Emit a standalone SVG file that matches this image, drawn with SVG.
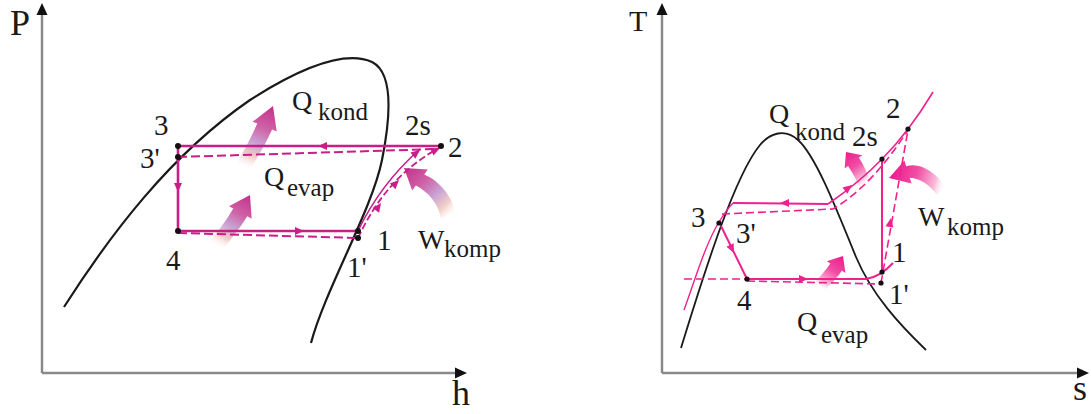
<svg xmlns="http://www.w3.org/2000/svg" width="1091" height="414" viewBox="0 0 1091 414">
<style>
.axis{stroke:#8a8a8a;stroke-width:2.5;fill:none}
.dome{stroke:#1a1a1a;stroke-width:2.2;fill:none}
.cl{stroke:#c81e88;stroke-width:2.6;fill:none}
.cld{stroke:#c81e88;stroke-width:2;fill:none;stroke-dasharray:9 4}
.cr{stroke:#f0208e;stroke-width:2;fill:none}
.crd{stroke:#f0208e;stroke-width:1.6;fill:none;stroke-dasharray:8 4}
.dot{fill:#111}
</style>
<defs>
<path id="ah" d="M0,0 L-9,-4 L-9,4 Z"/>
<path id="axh" d="M0,0 L-12,-5.5 L-12,5.5 Z" fill="#111"/>
<path id="fa" d="M0,0 L13,20 L8,20 C7.5,34 5,48 2,62 L-13,62 C-10,48 -8.5,34 -8,20 L-13,20 Z"/>
<linearGradient id="gL" x1="0" y1="0" x2="0" y2="1">
<stop offset="0" stop-color="#c2308a"/>
<stop offset="0.35" stop-color="#cf62a6"/>
<stop offset="0.6" stop-color="#c9a4d4"/>
<stop offset="0.8" stop-color="#f2cfc8"/>
<stop offset="1" stop-color="#ffffff" stop-opacity="0"/>
</linearGradient>
<linearGradient id="gLw" href="#gL" gradientUnits="userSpaceOnUse" x1="404" y1="168" x2="452" y2="218"/>
<linearGradient id="gR" x1="0" y1="0" x2="0" y2="1">
<stop offset="0" stop-color="#ee1a8c"/>
<stop offset="0.45" stop-color="#f04fa5"/>
<stop offset="0.8" stop-color="#f9bcd9"/>
<stop offset="1" stop-color="#ffffff" stop-opacity="0"/>
</linearGradient>
<linearGradient id="gRw" href="#gR" gradientUnits="userSpaceOnUse" x1="890" y1="176" x2="944" y2="192"/>
</defs>

<!-- LEFT: P-h diagram -->
<g id="axes-ph">
<line class="axis" x1="42" y1="373" x2="42" y2="12"/>
<use href="#axh" transform="translate(42,3) rotate(-90)"/>
<line class="axis" x1="42" y1="373" x2="458" y2="373"/>
<use href="#axh" transform="translate(467,373)"/>
<text font-family="Liberation Serif" font-size="36" fill="#1a1a1a" x="10" y="35">P</text>
<text font-family="Liberation Serif" font-size="36" fill="#1a1a1a" x="452" y="405">h</text>
</g>
<g id="dome-ph">
<path class="dome" d="M64,307 C110,235 170,155 250,100 C300,68 345,50 372,62 C392,72 392,110 382,160 C372,210 325,290 311,343"/>
</g>
<g id="heat-ph">
<use href="#fa" fill="url(#gL)" transform="translate(273,106) rotate(22) scale(1,1.11)"/>
<use href="#fa" fill="url(#gL)" transform="translate(250,195) rotate(29)"/>
<path fill="url(#gLw)" d="M404,168 L427.8,169.6 L424.2,174.4 C438,180 452,195 455,212 L441,218 C438,203 428,192 415.8,185.6 L412.2,190.4 Z"/>
</g>
<g id="connectors-ph">
<path class="cl" d="M178,146 L441,146"/>
<path class="cld" d="M178,157 L437,149"/>
<path class="cl" d="M178,146 L178,231"/>
<path class="cl" d="M178,231 L358,231"/>
<path class="cld" d="M178,233 L358,238"/>
<path class="cl" style="stroke-width:1.6" d="M358,231 C368,210 385,180 420,149"/>
<path class="cld" style="stroke-width:1.8;stroke-dasharray:7 3" d="M358,238 C372,208 395,172 439,148"/>
<g fill="#c81e88">
<use href="#ah" transform="translate(318,146) rotate(180)"/>
<use href="#ah" transform="translate(178,192) rotate(90)"/>
<use href="#ah" transform="translate(304,231)"/>
<use href="#ah" transform="translate(420,150) rotate(-38)"/>
<use href="#ah" transform="translate(440,148) rotate(-25)"/>
<use href="#ah" transform="translate(399,180) rotate(-45)"/>
<use href="#ah" transform="translate(381,203) rotate(-55)"/>
</g>
</g>
<g font-family="Liberation Serif" fill="#1a1a1a" font-size="29">
<g id="pt-ph-3"><circle class="dot" cx="178" cy="146" r="3"/><text font-family="Liberation Serif" x="154" y="135">3</text></g>
<g id="pt-ph-3p"><circle class="dot" cx="178" cy="157" r="3"/><text font-family="Liberation Serif" x="140" y="168">3'</text></g>
<g id="pt-ph-4"><circle class="dot" cx="178" cy="231" r="3"/><text font-family="Liberation Serif" x="166" y="270">4</text></g>
<g id="pt-ph-1"><circle class="dot" cx="358" cy="231" r="3"/><text font-family="Liberation Serif" x="377" y="250">1</text></g>
<g id="pt-ph-1p"><circle class="dot" cx="358" cy="238" r="3"/><text font-family="Liberation Serif" x="347" y="277">1'</text></g>
<g id="pt-ph-2"><circle class="dot" cx="441" cy="146" r="3"/><text font-family="Liberation Serif" x="448" y="157">2</text></g>
<g id="pt-ph-2s"><text font-family="Liberation Serif" x="405" y="135">2s</text></g>
<g id="lbl-ph-qkond"><text font-family="Liberation Serif" font-size="28" x="292" y="110">Q</text><text font-family="Liberation Serif" font-size="25" x="318" y="120">kond</text></g>
<g id="lbl-ph-qevap"><text font-family="Liberation Serif" font-size="28" x="264" y="186">Q</text><text font-family="Liberation Serif" font-size="25" x="287" y="196">evap</text></g>
<g id="lbl-ph-wkomp"><text font-family="Liberation Serif" font-size="28" x="418" y="249">W</text><text font-family="Liberation Serif" font-size="25" x="444" y="257">komp</text></g>
</g>

<!-- RIGHT: T-s diagram -->
<g id="axes-ts">
<line class="axis" x1="662" y1="373" x2="662" y2="12"/>
<use href="#axh" transform="translate(662,3) rotate(-90)"/>
<line class="axis" x1="662" y1="373" x2="1080" y2="373"/>
<use href="#axh" transform="translate(1089,373)"/>
<text font-family="Liberation Serif" font-size="30" fill="#1a1a1a" x="629" y="31">T</text>
<text font-family="Liberation Serif" font-size="36" fill="#1a1a1a" x="1073" y="400">s</text>
</g>
<g id="dome-ts">
<path class="dome" style="stroke-width:1.8" d="M681,348 C705,270 735,175 760,145 C770,133 785,128 798,140 C815,155 835,205 856,257 C872,295 900,325 926,350"/>
</g>
<g id="heat-ts">
<use href="#fa" fill="url(#gR)" transform="translate(846,152) rotate(-37) scale(0.85,0.62)"/>
<use href="#fa" fill="url(#gR)" transform="translate(843,256) rotate(32) scale(0.85,0.65)"/>
<path fill="url(#gRw)" d="M889,178 L904.4,160.6 L906.2,166.3 C920,162 935,172 945,186 L937,195 C930,185 920,178 909.8,177.7 L911.6,183.4 Z"/>
</g>
<g id="connectors-ts">
<path class="cr" style="stroke-width:1.4" d="M684,310 C695,280 705,245 719,222 C724,214 728,208 733,203"/>
<path class="cr" d="M733,203 L828,204"/>
<path class="cr" style="stroke-width:1.6" d="M828,204 Q860,182 882,159 Q896,145 908,129 Q921,112 933,92"/>
<path class="crd" d="M722,214 L833,209 Q872,186 908,130"/>
<path class="cr" d="M721,226 L747,279"/>
<path class="crd" d="M684,279 L747,279"/>
<path class="cr" d="M747,279 L866,279 Q880,277 893,263"/>
<path class="crd" d="M747,281 L881,284"/>
<path class="cr" d="M882,272 L882,159"/>
<path class="crd" d="M881,283 L908,130"/>
<g fill="#f0208e">
<use href="#ah" transform="translate(780,203) rotate(180)"/>
<use href="#ah" transform="translate(852,185) rotate(-38)"/>
<use href="#ah" transform="translate(734,253) rotate(64)"/>
<use href="#ah" transform="translate(808,279)"/>
<use href="#ah" transform="translate(891,218) rotate(-80)"/>
</g>
</g>
<g font-family="Liberation Serif" fill="#1a1a1a" font-size="29">
<g id="pt-ts-3"><circle class="dot" cx="719" cy="223" r="2.6"/><text font-family="Liberation Serif" x="691" y="227">3</text></g>
<g id="pt-ts-3p"><text font-family="Liberation Serif" x="736" y="243">3'</text></g>
<g id="pt-ts-4"><circle class="dot" cx="747" cy="279" r="2.6"/><text font-family="Liberation Serif" x="737" y="310">4</text></g>
<g id="pt-ts-1"><circle class="dot" cx="882" cy="272" r="2.6"/><text font-family="Liberation Serif" x="892" y="262">1</text></g>
<g id="pt-ts-1p"><circle class="dot" cx="881" cy="283" r="2.6"/><text font-family="Liberation Serif" x="889" y="304">1'</text></g>
<g id="pt-ts-2s"><circle class="dot" cx="882" cy="159" r="2.6"/><text font-family="Liberation Serif" x="852" y="146">2s</text></g>
<g id="pt-ts-2"><circle class="dot" cx="908" cy="129" r="2.6"/><text font-family="Liberation Serif" x="886" y="118">2</text></g>
<g id="lbl-ts-qkond"><text font-family="Liberation Serif" font-size="28" x="769" y="123">Q</text><text font-family="Liberation Serif" font-size="25" x="795" y="140">kond</text></g>
<g id="lbl-ts-qevap"><text font-family="Liberation Serif" font-size="28" x="797" y="331">Q</text><text font-family="Liberation Serif" font-size="25" x="821" y="343">evap</text></g>
<g id="lbl-ts-wkomp"><text font-family="Liberation Serif" font-size="28" x="918" y="226">W</text><text font-family="Liberation Serif" font-size="25" x="947" y="235">komp</text></g>
</g>
</svg>
